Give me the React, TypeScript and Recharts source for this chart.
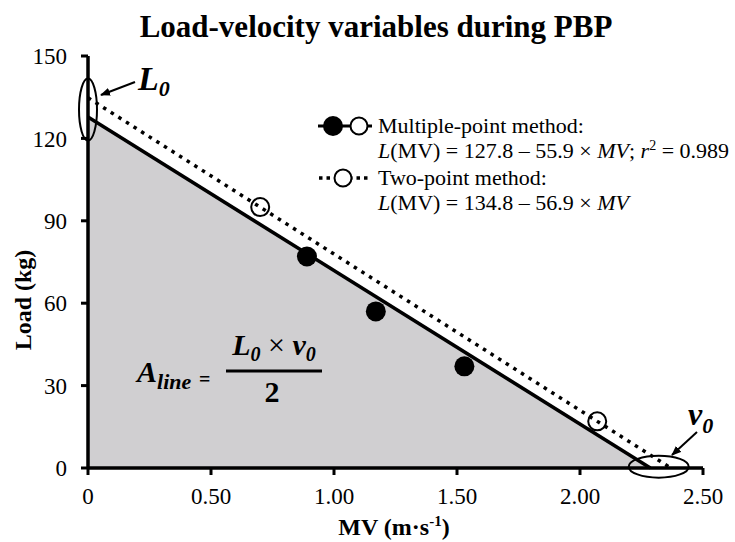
import React from "react";
import {
  ComposedChart,
  Area,
  Line,
  Scatter,
  XAxis,
  YAxis,
  ReferenceDot,
} from "recharts";

const xTicks = [0, 0.5, 1, 1.5, 2, 2.5];
const yTicks = [0, 30, 60, 90, 120, 150];

// fitted lines: multi = 127.8 - 55.9*MV (v0 = 2.286), two = 134.8 - 56.9*MV (v0 = 2.369)
const lineMV = [0, 2.286, 2.369];
const multiLoad = [127.8, 0, null];
const twoLoad = [134.8, null, 0];

// measured points
const multiMV = [0.89, 1.17, 1.53];
const multiPts = [77, 57, 37];
const twoMV = [0.7, 2.07];
const twoPts = [95, 17];

const lineData = lineMV.map((mv, i) => ({ mv, multi: multiLoad[i], two: twoLoad[i] }));
const multiData = multiMV.map((mv, i) => ({ mv, load: multiPts[i] }));
const twoData = twoMV.map((mv, i) => ({ mv, load: twoPts[i] }));

const serif = "'Liberation Serif', 'DejaVu Serif', serif";

const FilledDot = (p: any) => <circle cx={p.cx} cy={p.cy} r={10} fill="#000" />;
const OpenDot = (p: any) => (
  <circle cx={p.cx} cy={p.cy} r={9} fill="none" stroke="#000" strokeWidth={2} />
);

export default function App() {
  return (
    <div style={{ position: "absolute", left: 0, top: 0, width: 735, height: 542, background: "#fff", fontFamily: serif }}>
      <ComposedChart
        width={735}
        height={542}
        data={lineData}
        margin={{ top: 56, right: 32, left: 28, bottom: 44 }}
      >
        <XAxis
          dataKey="mv"
          type="number"
          domain={[0, 2.5]}
          ticks={xTicks}
          height={30}
          tickFormatter={(v: number) => (v === 0 ? "0" : v.toFixed(2))}
          axisLine={{ stroke: "#000", strokeWidth: 3.5 }}
          tickLine={{ stroke: "#000", strokeWidth: 3 }}
          tickSize={7}
          tickMargin={13}
          tick={{ fill: "#000", fontSize: 23, fontFamily: serif }}
        />
        <YAxis
          type="number"
          domain={[0, 150]}
          ticks={yTicks}
          width={60}
          axisLine={{ stroke: "#000", strokeWidth: 3.5 }}
          tickLine={{ stroke: "#000", strokeWidth: 3 }}
          tickSize={7}
          tickMargin={14}
          tick={{ fill: "#000", fontSize: 23, fontFamily: serif }}
        />
        <Area
          type="linear"
          dataKey="multi"
          connectNulls
          fill="#d0cfd1"
          fillOpacity={1}
          stroke="#000"
          strokeWidth={3.5}
          isAnimationActive={false}
        />
        <Line
          type="linear"
          dataKey="two"
          connectNulls
          stroke="#000"
          strokeWidth={3.5}
          strokeDasharray="3.5 5.5"
          dot={false}
          isAnimationActive={false}
        />
        <Scatter data={twoData} dataKey="load" shape={OpenDot} isAnimationActive={false} />
        <Scatter data={multiData} dataKey="load" shape={FilledDot} isAnimationActive={false} />
        <ReferenceDot
          x={0}
          y={130.5}
          r={0}
          ifOverflow="visible"
          shape={(p: any) => (
            <ellipse cx={p.cx} cy={p.cy} rx={9} ry={31} fill="none" stroke="#000" strokeWidth={2} />
          )}
        />
        <ReferenceDot
          x={2.32}
          y={0.5}
          r={0}
          ifOverflow="visible"
          shape={(p: any) => (
            <ellipse cx={p.cx} cy={p.cy} rx={30} ry={11} fill="none" stroke="#000" strokeWidth={2} />
          )}
        />
      </ComposedChart>

      <svg
        width={735}
        height={542}
        style={{ position: "absolute", left: 0, top: 0, pointerEvents: "none" }}
        fontFamily={serif}
      >
        <defs>
          <marker id="arr" markerWidth="10" markerHeight="8" refX="9" refY="4" orient="auto" markerUnits="userSpaceOnUse">
            <path d="M0,0 L10,4 L0,8 z" fill="#000" />
          </marker>
        </defs>

        <text x={376} y={37} textAnchor="middle" fontSize={31} fontWeight="bold">
          Load-velocity variables during PBP
        </text>

        <text transform="translate(31,300) rotate(-90)" textAnchor="middle" fontSize={24} fontWeight="bold">
          Load (kg)
        </text>
        <text x={394} y={535} textAnchor="middle" fontSize={24} fontWeight="bold">
          MV (m·s<tspan dy={-9} fontSize={15}>-1</tspan>
          <tspan dy={9}>)</tspan>
        </text>

        {/* legend */}
        <line x1={318} y1={126} x2={372} y2={126} stroke="#000" strokeWidth={3} />
        <circle cx={333} cy={126} r={10} fill="#000" />
        <circle cx={359} cy={126} r={8.5} fill="#fff" stroke="#000" strokeWidth={2} />
        <text x={378} y={133} fontSize={22}>Multiple-point method:</text>
        <text x={378} y={158} fontSize={22}>
          <tspan fontStyle="italic">L</tspan>(MV) = 127.8 – 55.9 × <tspan fontStyle="italic">MV</tspan>;{" "}
          <tspan fontStyle="italic">r</tspan>
          <tspan dy={-8} fontSize={14}>2</tspan>
          <tspan dy={8}> = 0.989</tspan>
        </text>
        <line x1={319} y1={178} x2={370} y2={178} stroke="#000" strokeWidth={3.5} strokeDasharray="3.5 4" />
        <circle cx={343} cy={178} r={8.5} fill="#fff" stroke="#000" strokeWidth={2} />
        <text x={378} y={185} fontSize={22}>Two-point method:</text>
        <text x={378} y={210} fontSize={22}>
          <tspan fontStyle="italic">L</tspan>(MV) = 134.8 – 56.9 × <tspan fontStyle="italic">MV</tspan>
        </text>

        {/* L0 and v0 callouts */}
        <text x={138} y={90} fontSize={34} fontWeight="bold" fontStyle="italic">
          L<tspan dy={6} fontSize={22}>0</tspan>
        </text>
        <line x1={135} y1={82} x2={101} y2={95} stroke="#000" strokeWidth={2} markerEnd="url(#arr)" />
        <text x={688} y={425} fontSize={32} fontWeight="bold" fontStyle="italic">
          v<tspan dy={8} fontSize={22}>0</tspan>
        </text>
        <line x1={697} y1={432} x2={672} y2={455} stroke="#000" strokeWidth={2} markerEnd="url(#arr)" />

        {/* area formula */}
        <text x={137} y={382} fontSize={30} fontWeight="bold" fontStyle="italic">
          A<tspan dy={7} fontSize={22}>line</tspan>
        </text>
        <text x={199} y={386} fontSize={20} fontWeight="bold">=</text>
        <text x={274} y={355} textAnchor="middle" fontSize={30} fontWeight="bold">
          <tspan fontStyle="italic">L</tspan>
          <tspan dy={6} fontSize={20} fontStyle="italic">0</tspan>
          <tspan dy={-6} fontWeight="normal"> × </tspan>
          <tspan fontStyle="italic">v</tspan>
          <tspan dy={6} fontSize={20} fontStyle="italic">0</tspan>
        </text>
        <line x1={226} y1={371} x2={322} y2={371} stroke="#000" strokeWidth={3} />
        <text x={272} y={402} textAnchor="middle" fontSize={30} fontWeight="bold">2</text>
      </svg>
    </div>
  );
}
